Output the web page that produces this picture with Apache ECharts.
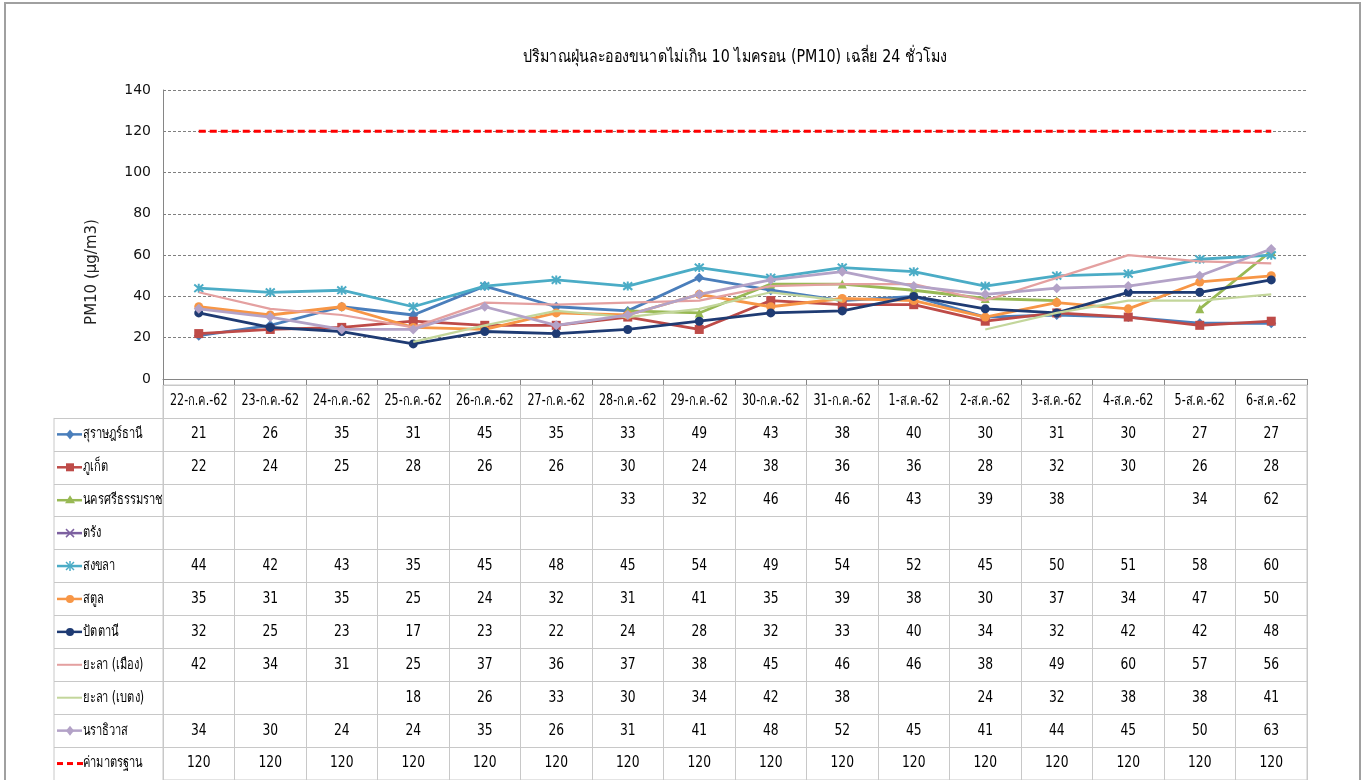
<!DOCTYPE html>
<html lang="th">
<head>
    <meta charset="UTF-8">
    <title>PM10 เฉลี่ย 24 ชั่วโมง</title>
    <script src="https://cdn.jsdelivr.net/npm/echarts@6/dist/echarts.min.js"></script>
    <style>
        html, body { margin: 0; padding: 0; background: #fff; }
        #main { width: 1367px; height: 780px; }
    </style>
</head>
<body>
<div id="main"></div>
<script>
    // ข้อมูล PM10 รายวัน
    const dates = ['22-ก.ค.-62', '23-ก.ค.-62', '24-ก.ค.-62', '25-ก.ค.-62', '26-ก.ค.-62', '27-ก.ค.-62',
        '28-ก.ค.-62', '29-ก.ค.-62', '30-ก.ค.-62', '31-ก.ค.-62', '1-ส.ค.-62', '2-ส.ค.-62',
        '3-ส.ค.-62', '4-ส.ค.-62', '5-ส.ค.-62', '6-ส.ค.-62'];
    const yTicks = [0, 20, 40, 60, 80, 100, 120, 140];

    const surat = [21, 26, 35, 31, 45, 35, 33, 49, 43, 38, 40, 30, 31, 30, 27, 27];
    const phuket = [22, 24, 25, 28, 26, 26, 30, 24, 38, 36, 36, 28, 32, 30, 26, 28];
    const nakhon = [null, null, null, null, null, null, 33, 32, 46, 46, 43, 39, 38, null, 34, 62];
    const trang = [null, null, null, null, null, null, null, null, null, null, null, null, null, null, null, null];
    const songkhla = [44, 42, 43, 35, 45, 48, 45, 54, 49, 54, 52, 45, 50, 51, 58, 60];
    const satun = [35, 31, 35, 25, 24, 32, 31, 41, 35, 39, 38, 30, 37, 34, 47, 50];
    const pattani = [32, 25, 23, 17, 23, 22, 24, 28, 32, 33, 40, 34, 32, 42, 42, 48];
    const yalaMueang = [42, 34, 31, 25, 37, 36, 37, 38, 45, 46, 46, 38, 49, 60, 57, 56];
    const yalaBetong = [null, null, null, 18, 26, 33, 30, 34, 42, 38, null, 24, 32, 38, 38, 41];
    const narathiwat = [34, 30, 24, 24, 35, 26, 31, 41, 48, 52, 45, 41, 44, 45, 50, 63];
    const standard = [120, 120, 120, 120, 120, 120, 120, 120, 120, 120, 120, 120, 120, 120, 120, 120];

    const names = ['สุราษฎร์ธานี', 'ภูเก็ต', 'นครศรีธรรมราช', 'ตรัง', 'สงขลา', 'สตูล', 'ปัตตานี',
        'ยะลา (เมือง)', 'ยะลา (เบตง)', 'นราธิวาส', 'ค่ามาตรฐาน'];
    const allValues = [surat, phuket, nakhon, trang, songkhla, satun, pattani, yalaMueang, yalaBetong, narathiwat, standard];
    const colors = ['#4A7EBB', '#BE4B48', '#98B954', '#7D60A0', '#4BACC6', '#F79646', '#1F3B73',
        '#E4A0A0', '#C3D69B', '#B3A2C7', '#FF0000'];
    const markers = ['diamond', 'rect', 'triangle', 'cross', 'star', 'circle', 'circle', 'none', 'none', 'diamond', 'dash'];

    const FONT = 'Tahoma, "DejaVu Sans", sans-serif';
    const SQUEEZE = 0.82;   // ฟอนต์ต้นฉบับแคบกว่า
    const LEGEND_W = 109;
    const GRID_LINE = '#C8C8C8';

    const symbolOf = {
        diamond: 'diamond',
        rect: 'rect',
        triangle: 'triangle',
        circle: 'circle',
        cross: 'path://M0,0L10,10M10,0L0,10',
        star: 'path://M0,0L10,10M10,0L0,10M5,-1L5,11',
        none: 'none'
    };

    let myChart = echarts.init(document.getElementById('main'));

    // เส้นกราฟ
    let lineSeries = [];
    for (let i = 0; i < allValues.length; i++) {
        let isStd = i === allValues.length - 1;
        let m = markers[i];
        lineSeries.push({
            name: names[i],
            type: 'line',
            xAxisIndex: 0,
            yAxisIndex: 0,
            data: allValues[i],
            connectNulls: false,
            symbol: isStd ? 'none' : symbolOf[m],
            symbolSize: m === 'diamond' ? 10 : 9,
            showSymbol: !isStd,
            lineStyle: {
                color: colors[i],
                width: isStd ? 3 : (m === 'none' ? 2.2 : 2.8),
                type: isStd ? [7, 4] : 'solid'
            },
            itemStyle: {
                color: colors[i],
                borderColor: colors[i],
                borderWidth: (m === 'cross' || m === 'star') ? 2 : 0
            },
            z: isStd ? 1 : 2 + i,
            animation: false
        });
    }

    // ตารางข้อมูล: แถวที่ 0 = หัวตาราง
    let cellData = [];
    let cellText = [];
    for (let c = 0; c < dates.length; c++) {
        cellData.push([c, 0]);
        cellText.push(dates[c]);
    }
    for (let r = 0; r < allValues.length; r++) {
        for (let c = 0; c < dates.length; c++) {
            if (allValues[r][c] !== null) {
                cellData.push([c, r + 1]);
                cellText.push(String(allValues[r][c]));
            }
        }
    }

    let keyData = [];
    for (let r = 0; r < names.length; r++) keyData.push([0, r + 1]);

    function keyShape(m, color, x, y) {
        let kids = [];
        if (m === 'dash') {
            for (let k = 0; k < 3; k++) {
                kids.push({ type: 'line', shape: { x1: x - 13 + k * 10, y1: y, x2: x - 7 + k * 10, y2: y },
                    style: { stroke: color, lineWidth: 3 } });
            }
            return kids;
        }
        kids.push({ type: 'line', shape: { x1: x - 13, y1: y, x2: x + 12, y2: y },
            style: { stroke: color, lineWidth: m === 'none' ? 2 : 2.5 } });
        if (m === 'diamond') {
            kids.push({ type: 'polygon', shape: { points: [[x, y - 5], [x + 4, y], [x, y + 5], [x - 4, y]] }, style: { fill: color } });
        } else if (m === 'rect') {
            kids.push({ type: 'rect', shape: { x: x - 4, y: y - 4, width: 8, height: 8 }, style: { fill: color } });
        } else if (m === 'triangle') {
            kids.push({ type: 'polygon', shape: { points: [[x, y - 5], [x + 5, y + 3], [x - 5, y + 3]] }, style: { fill: color } });
        } else if (m === 'circle') {
            kids.push({ type: 'circle', shape: { cx: x, cy: y, r: 4 }, style: { fill: color } });
        } else if (m === 'cross' || m === 'star') {
            kids.push({ type: 'line', shape: { x1: x - 4, y1: y - 4, x2: x + 4, y2: y + 4 }, style: { stroke: color, lineWidth: 1.5 } });
            kids.push({ type: 'line', shape: { x1: x - 4, y1: y + 4, x2: x + 4, y2: y - 4 }, style: { stroke: color, lineWidth: 1.5 } });
            if (m === 'star') {
                kids.push({ type: 'line', shape: { x1: x, y1: y - 5, x2: x, y2: y + 5 }, style: { stroke: color, lineWidth: 1.5 } });
            }
        }
        return kids;
    }

    let option = {
        backgroundColor: '#fff',
        animation: false,
        graphic: [
            {
                type: 'rect',
                shape: { x: 5, y: 3, width: 1355, height: 790 },
                style: { fill: 'none', stroke: '#A0A0A0', lineWidth: 2 },
                silent: true
            },
            {
                // ชื่อกราฟ
                type: 'text',
                x: 735, y: 58,
                scaleX: 0.84,
                style: {
                    text: 'ปริมาณฝุ่นละอองขนาดไม่เกิน 10 ไมครอน (PM10) เฉลี่ย 24 ชั่วโมง',
                    fontFamily: FONT,
                    fontSize: 17,
                    fill: '#000',
                    align: 'center',
                    verticalAlign: 'middle'
                }
            },
            {
                type: 'text',
                x: 92, y: 272,
                rotation: Math.PI / 2,
                style: {
                    text: 'PM10 (µg/m3)',
                    fontFamily: '"DejaVu Sans", Verdana, sans-serif',
                    fontSize: 15,
                    fill: '#222',
                    align: 'center',
                    verticalAlign: 'middle'
                }
            }
        ],
        grid: [
            { left: 163, right: 60, top: 90, height: 289 },
            { left: 163, right: 60, top: 385, bottom: 0, show: true, borderColor: GRID_LINE, borderWidth: 1 }
        ],
        xAxis: [
            {
                type: 'category',
                gridIndex: 0,
                data: dates,
                boundaryGap: true,
                axisLine: { show: true, lineStyle: { color: '#868686' } },
                axisTick: { show: true, interval: 0, length: 6, lineStyle: { color: '#868686' } },
                axisLabel: { show: false },
                splitLine: { show: false }
            },
            {
                type: 'category',
                gridIndex: 1,
                data: dates,
                boundaryGap: true,
                position: 'top',
                axisLine: { show: false },
                axisTick: { show: false },
                axisLabel: { show: false },
                splitLine: { show: true, interval: 0, lineStyle: { color: GRID_LINE, width: 1 } }
            }
        ],
        yAxis: [
            {
                type: 'value',
                gridIndex: 0,
                min: 0,
                max: 140,
                interval: 20,
                axisLine: { show: true, lineStyle: { color: '#868686' } },
                axisTick: { show: false },
                axisLabel: {
                    margin: 12,
                    color: '#111',
                    fontFamily: FONT,
                    fontSize: 14,
                    formatter: function (v) { return yTicks.indexOf(v) >= 0 ? String(v) : ''; }
                },
                splitLine: { show: true, lineStyle: { color: '#7F7F7F', type: [3, 2], width: 1.2 } }
            },
            {
                type: 'category',
                gridIndex: 1,
                inverse: true,
                data: [''].concat(names),
                axisLine: { show: false },
                axisTick: {
                    show: true,
                    inside: false,
                    length: LEGEND_W,
                    interval: function (idx) { return idx > 0; },
                    lineStyle: { color: GRID_LINE }
                },
                axisLabel: { show: false },
                splitLine: { show: true, interval: 0, lineStyle: { color: GRID_LINE, width: 1 } }
            }
        ],
        series: lineSeries.concat([
            {
                name: 'cells',
                type: 'custom',
                xAxisIndex: 1,
                yAxisIndex: 1,
                data: cellData,
                silent: true,
                renderItem: function (params, api) {
                    let p = api.coord([api.value(0), api.value(1)]);
                    let isHead = api.value(1) === 0;
                    return {
                        type: 'text',
                        x: p[0], y: p[1],
                        scaleX: isHead ? 0.74 : SQUEEZE,
                        style: {
                            text: cellText[params.dataIndex],
                            fontFamily: FONT,
                            fontSize: 15,
                            fill: '#000',
                            align: 'center',
                            verticalAlign: 'middle'
                        }
                    };
                }
            },
            {
                name: 'keys',
                type: 'custom',
                xAxisIndex: 1,
                yAxisIndex: 1,
                data: keyData,
                silent: true,
                renderItem: function (params, api) {
                    let p = api.coord([api.value(0), api.value(1)]);
                    let s = api.size([1, 1]);
                    let left = p[0] - s[0] / 2 - LEGEND_W;
                    let r = params.dataIndex;
                    let kids = [{
                        type: 'line',
                        shape: { x1: left, y1: p[1] - s[1] / 2, x2: left, y2: p[1] + s[1] / 2 },
                        style: { stroke: GRID_LINE, lineWidth: 1 }
                    }];
                    kids = kids.concat(keyShape(markers[r], colors[r], left + 16, p[1]));
                    kids.push({
                        type: 'text',
                        x: left + 29, y: p[1],
                        scaleX: 0.74,
                        style: {
                            text: names[r],
                            fontFamily: FONT,
                            fontSize: 15,
                            fill: '#000',
                            align: 'left',
                            verticalAlign: 'middle'
                        }
                    });
                    return { type: 'group', children: kids };
                }
            }
        ])
    };
    myChart.setOption(option);
</script>
</body>
</html>
